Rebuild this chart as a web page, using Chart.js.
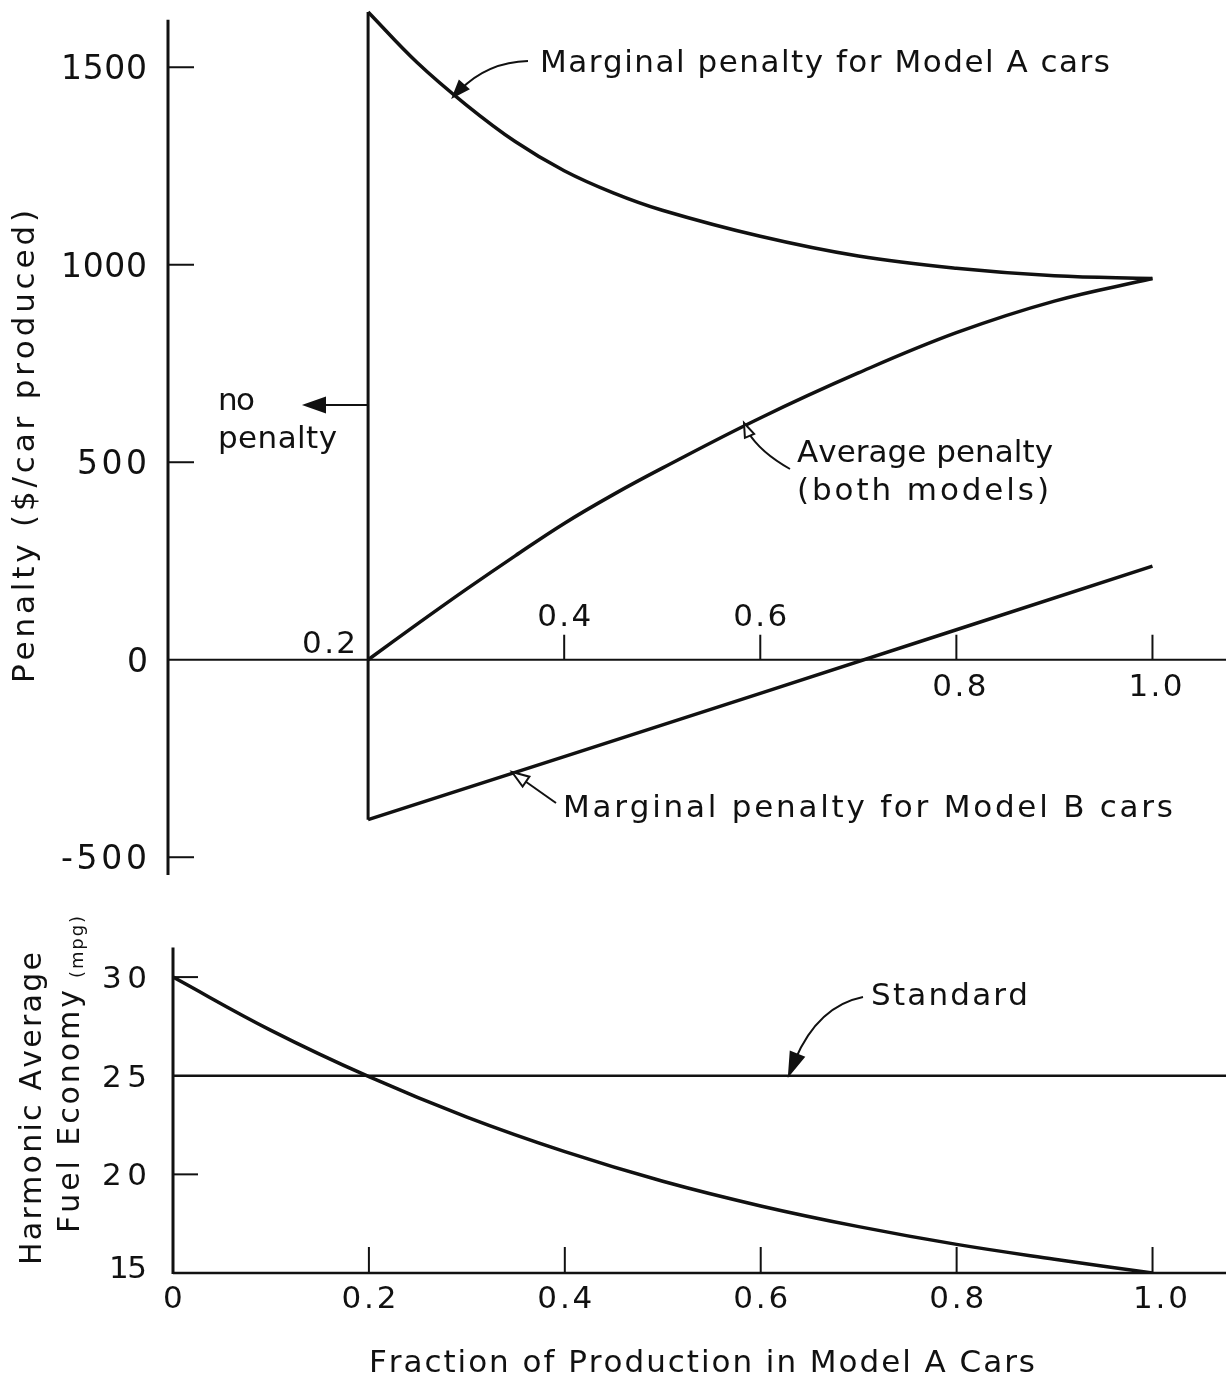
<!DOCTYPE html>
<html>
<head>
<meta charset="utf-8">
<script src="https://cdn.jsdelivr.net/npm/chart.js@4.4.1/dist/chart.umd.min.js"></script>
<style>
html, body { margin: 0; padding: 0; background: #fff; }
#wrap { position: relative; width: 1226px; height: 1376px; overflow: hidden; background: #fff; }
#penaltyChart { position: absolute; left: 0; top: 0; }
#mpgChart { position: absolute; left: 0; top: 900px; }
</style>
</head>
<body>
<div id="wrap">
  <canvas id="penaltyChart" width="1226" height="900"></canvas>
  <canvas id="mpgChart" width="1226" height="476"></canvas>
</div>
<script>
// ---- data ----
const fraction   = [0.2, 0.25, 0.3, 0.35, 0.4, 0.45, 0.5, 0.6, 0.7, 0.8, 0.9, 1.0];
const marginalA  = [1640, 1512, 1405, 1312, 1238, 1182, 1138, 1072, 1022, 991, 972, 965];
const averagePen = [0, 90, 178, 263, 345, 418, 485, 612, 726, 828, 908, 965];

const fractionB  = [0.2, 0.6, 1.0];
const marginalB  = [-405, -85, 237];

const boundaryX  = [0.2, 0.2];
const boundaryY  = [-405, 1640];

const mpgFraction  = [0, 0.1, 0.2, 0.3, 0.4, 0.5, 0.6, 0.7, 0.8, 0.9, 1.0];
const harmonicMpg  = [30, 27.3, 24.95, 22.9, 21.15, 19.65, 18.4, 17.35, 16.45, 15.7, 15];
const standardX    = [0, 1.075];
const standardMpg  = [25, 25];

const penaltyTicks  = [1500, 1000, 500, 0, -500];
const penaltyLabels = ['1500', '1000', '500', '0', '-500'];
const topXTicks     = [0.2, 0.4, 0.6, 0.8, 1.0];
const topXLabels    = ['0.2', '0.4', '0.6', '0.8', '1.0'];
const mpgTicks      = [30, 25, 20, 15];
const mpgLabels     = ['30', '25', '20', '15'];
const bottomXTicks  = [0, 0.2, 0.4, 0.6, 0.8, 1.0];
const bottomXLabels = ['0', '0.2', '0.4', '0.6', '0.8', '1.0'];

const INK = '#111';
const FONT = '"DejaVu Sans"';

function pts(xs, ys) {
    return xs.map((x, i) => ({ x: x, y: ys[i] }));
}

// draw text spread out to a given width (the lettering in the scan is widely spaced)
function spaced(ctx, str, left, base, size, width) {
    ctx.font = size + 'px ' + FONT;
    ctx.fillStyle = INK;
    ctx.textAlign = 'left';
    ctx.textBaseline = 'alphabetic';
    const chars = [...str];
    const ws = chars.map(c => ctx.measureText(c).width);
    const total = ws.reduce((a, b) => a + b, 0);
    const gap = chars.length > 1 ? (width - total) / (chars.length - 1) : 0;
    let x = left;
    chars.forEach((c, i) => {
        ctx.fillText(c, x, base);
        x += ws[i] + gap;
    });
}

function spacedUp(ctx, str, baseX, bottomY, size, width) {
    ctx.save();
    ctx.translate(baseX, bottomY);
    ctx.rotate(-Math.PI / 2);
    spaced(ctx, str, 0, 0, size, width);
    ctx.restore();
}

function line(ctx, x1, y1, x2, y2, w) {
    ctx.beginPath();
    ctx.moveTo(x1, y1);
    ctx.lineTo(x2, y2);
    ctx.lineWidth = w;
    ctx.strokeStyle = INK;
    ctx.stroke();
}

function arrowHead(ctx, tx, ty, fx, fy, len, half, filled) {
    const a = Math.atan2(ty - fy, tx - fx);
    const bx = tx - len * Math.cos(a), by = ty - len * Math.sin(a);
    const nx = -Math.sin(a) * half, ny = Math.cos(a) * half;
    ctx.beginPath();
    ctx.moveTo(tx, ty);
    ctx.lineTo(bx + nx, by + ny);
    ctx.lineTo(bx - nx, by - ny);
    ctx.closePath();
    ctx.lineWidth = 2;
    ctx.strokeStyle = INK;
    ctx.fillStyle = filled ? INK : '#fff';
    ctx.fill();
    ctx.stroke();
}

const penaltyDecor = {
    id: 'penaltyDecor',
    beforeDatasetsDraw(chart) {
        const ctx = chart.ctx;
        const xs = chart.scales.x, ys = chart.scales.y;
        const axisX = xs.getPixelForValue(0) - 4;
        const zeroY = ys.getPixelForValue(0);
        ctx.save();
        // y axis and ticks
        line(ctx, axisX, ys.getPixelForValue(1620), axisX, ys.getPixelForValue(-545), 3);
        penaltyTicks.forEach((v, i) => {
            const y = ys.getPixelForValue(v);
            if (v !== 0) line(ctx, axisX, y, axisX + 26, y, 2);
            const w = penaltyLabels[i].length === 1 ? 20 : penaltyLabels[i].length === 3 ? 70 : 86;
            spaced(ctx, penaltyLabels[i], axisX - 21 - w, y + 12, 33, w);
        });
        // x axis at zero and ticks
        line(ctx, axisX, zeroY, chart.chartArea.right, zeroY, 2);
        topXTicks.forEach((v, i) => {
            const x = xs.getPixelForValue(v);
            const lab = topXLabels[i];
            const w = 54;
            if (v === 0.2) {
                spaced(ctx, lab, x - 66, zeroY - 7, 31, w);
                return;
            }
            line(ctx, x, zeroY, x, zeroY - 25, 2);
            if (v < 0.7) {
                spaced(ctx, lab, x - w / 2, zeroY - 34, 31, w);
            } else {
                spaced(ctx, lab, x - w / 2 + 3, zeroY + 36, 31, w);
            }
        });
        ctx.restore();
    },
    afterDraw(chart) {
        const ctx = chart.ctx;
        ctx.save();
        // y title
        spacedUp(ctx, 'Penalty ($/car produced)', 34, 683, 31, 473);

        // Model A label and curved arrow
        spaced(ctx, 'Marginal penalty for Model A cars', 540, 72, 31, 570);
        ctx.beginPath();
        ctx.moveTo(528, 61);
        ctx.quadraticCurveTo(488, 62, 460, 90);
        ctx.lineWidth = 2;
        ctx.strokeStyle = INK;
        ctx.stroke();
        arrowHead(ctx, 453, 97, 462, 87, 16, 6, true);

        // no penalty
        spaced(ctx, 'no', 218, 410, 31, 37);
        spaced(ctx, 'penalty', 218, 448, 31, 119);
        line(ctx, 369, 405, 318, 405, 2);
        arrowHead(ctx, 305, 405, 325, 405, 20, 7, true);

        // average penalty
        spaced(ctx, 'Average penalty', 797, 462, 31, 256);
        spaced(ctx, '(both models)', 797, 500, 31, 252);
        ctx.beginPath();
        ctx.moveTo(790, 469);
        ctx.quadraticCurveTo(760, 452, 748, 432);
        ctx.lineWidth = 2;
        ctx.stroke();
        arrowHead(ctx, 744, 423, 750, 437, 14, 5, false);

        // Model B label and arrow
        spaced(ctx, 'Marginal penalty for Model B cars', 563, 817, 31, 610);
        line(ctx, 556, 803, 522, 779, 2);
        arrowHead(ctx, 512, 772, 528, 783, 17, 6, false);
        ctx.restore();
    }
};

const mpgDecor = {
    id: 'mpgDecor',
    beforeDatasetsDraw(chart) {
        const ctx = chart.ctx;
        const xs = chart.scales.x, ys = chart.scales.y;
        const axisX = xs.getPixelForValue(0);
        const baseY = ys.getPixelForValue(15);
        ctx.save();
        line(ctx, axisX, chart.chartArea.top, axisX, baseY + 1, 3);
        line(ctx, axisX, baseY, chart.chartArea.right, baseY, 2.5);
        mpgTicks.forEach((v, i) => {
            const y = ys.getPixelForValue(v);
            if (v === 30 || v === 20) line(ctx, axisX, y, axisX + 25, y, 2);
            const w = v === 15 ? 38 : 45;
            const dy = v === 15 ? 5 : 11;
            spaced(ctx, mpgLabels[i], axisX - 26 - w, y + dy, 31, w);
        });
        bottomXTicks.forEach((v, i) => {
            const x = xs.getPixelForValue(v);
            if (v > 0) line(ctx, x, baseY, x, baseY - 26, 2);
            const lab = bottomXLabels[i];
            const w = lab === '0' ? 20 : 55;
            spaced(ctx, lab, x - w / 2 + (v === 1 ? 8 : 0), baseY + 35, 31, w);
        });
        ctx.restore();
    },
    afterDraw(chart) {
        const ctx = chart.ctx;
        ctx.save();
        ctx.translate(0, -900);
        // y titles
        spacedUp(ctx, 'Harmonic Average', 41, 1265, 30, 313);
        spacedUp(ctx, 'Fuel Economy', 79, 1233, 30, 243);
        spacedUp(ctx, '(mpg)', 83, 978, 18, 62);
        // x title
        spaced(ctx, 'Fraction of Production in Model A Cars', 369, 1372, 31, 666);
        // standard label and arrow
        spaced(ctx, 'Standard', 871, 1005, 31, 157);
        ctx.beginPath();
        ctx.moveTo(863, 997);
        ctx.quadraticCurveTo(818, 1006, 795, 1060);
        ctx.lineWidth = 2;
        ctx.strokeStyle = INK;
        ctx.stroke();
        arrowHead(ctx, 789, 1075, 797, 1055, 22, 7, true);
        ctx.restore();
    }
};

const curveStyle = {
    borderColor: INK,
    borderWidth: 3.5,
    pointRadius: 0,
    fill: false,
    tension: 0.4
};

new Chart(document.getElementById('penaltyChart'), {
    type: 'line',
    data: {
        datasets: [
            Object.assign({ label: 'Marginal penalty for Model A cars', data: pts(fraction, marginalA) }, curveStyle),
            Object.assign({ label: 'Average penalty (both models)', data: pts(fraction, averagePen) }, curveStyle),
            Object.assign({ label: 'Marginal penalty for Model B cars', data: pts(fractionB, marginalB) }, curveStyle),
            { label: 'boundary', data: pts(boundaryX, boundaryY), borderColor: INK, borderWidth: 3, pointRadius: 0, tension: 0, fill: false }
        ]
    },
    options: {
        responsive: false,
        animation: false,
        events: [],
        layout: { padding: { left: 172, right: 0, top: 8, bottom: 25 } },
        plugins: { legend: { display: false }, tooltip: { enabled: false } },
        scales: {
            x: { type: 'linear', min: 0, max: 1.075, display: false },
            y: { type: 'linear', min: -545, max: 1650, display: false }
        }
    },
    plugins: [penaltyDecor]
});

new Chart(document.getElementById('mpgChart'), {
    type: 'line',
    data: {
        datasets: [
            Object.assign({ label: 'Harmonic average fuel economy', data: pts(mpgFraction, harmonicMpg) }, curveStyle),
            { label: 'Standard', data: pts(standardX, standardMpg), borderColor: INK, borderWidth: 2.5, pointRadius: 0, tension: 0, fill: false }
        ]
    },
    options: {
        responsive: false,
        animation: false,
        events: [],
        layout: { padding: { left: 173, right: 0, top: 47.5, bottom: 103 } },
        plugins: { legend: { display: false }, tooltip: { enabled: false } },
        scales: {
            x: { type: 'linear', min: 0, max: 1.075, display: false },
            y: { type: 'linear', min: 15, max: 31.5, display: false }
        }
    },
    plugins: [mpgDecor]
});
</script>
</body>
</html>
